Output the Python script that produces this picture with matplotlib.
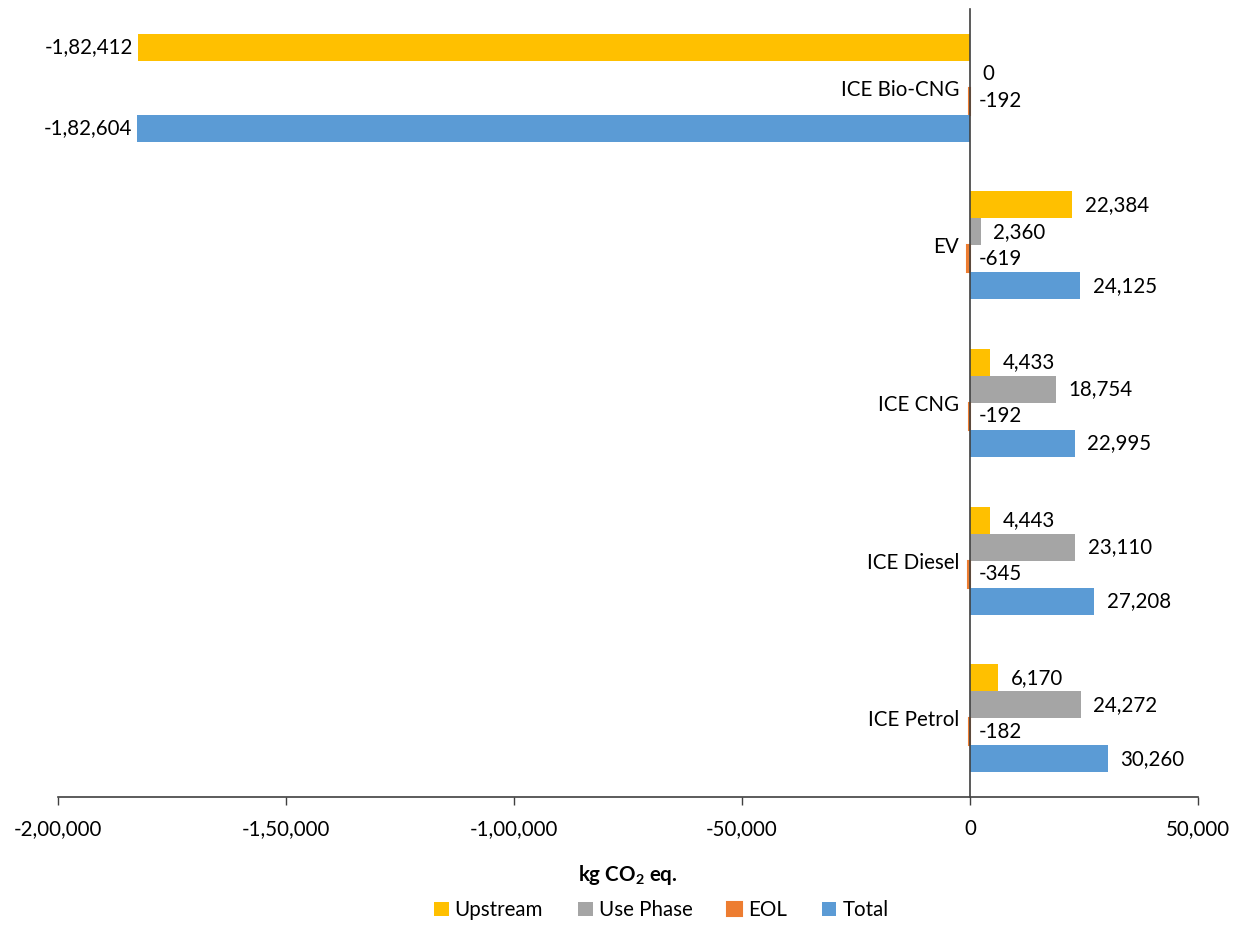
import matplotlib.pyplot as plt
import numpy as np

plt.rcParams["font.family"] = ["Lato", "DejaVu Sans"]
plt.rcParams["mathtext.fontset"] = "custom"
plt.rcParams["mathtext.rm"] = "Lato"
plt.rcParams["mathtext.bf"] = "Lato:bold"

vehicles = ["ICE Petrol", "ICE Diesel", "ICE CNG", "EV", "ICE Bio-CNG"]
upstream = [6170, 4443, 4433, 22384, -182412]
use_phase = [24272, 23110, 18754, 2360, 0]
eol = [-182, -345, -192, -619, -192]
total = [30260, 27208, 22995, 24125, -182604]

series = [
    ("Upstream", upstream, "#FFC000"),
    ("Use Phase", use_phase, "#A5A5A5"),
    ("EOL", eol, "#ED7D31"),
    ("Total", total, "#5B9BD5"),
]


def indian_format(v):
    """Format an integer with lakh-style digit grouping (1,82,412)."""
    sign = "-" if v < 0 else ""
    s = str(abs(int(round(v))))
    if len(s) > 3:
        head, tail = s[:-3], s[-3:]
        groups = []
        while len(head) > 2:
            groups.insert(0, head[-2:])
            head = head[:-2]
        if head:
            groups.insert(0, head)
        s = ",".join(groups + [tail])
    return sign + s


fig = plt.figure(figsize=(12.43, 9.26), dpi=100)
ax = fig.add_axes([0.0467, 0.1393, 0.9171, 0.851])

y = np.arange(len(vehicles))
h = 0.171
offsets = [1.5 * h, 0.5 * h, -0.5 * h, -1.5 * h]
fs = 14.8

for (name, vals, color), off in zip(series, offsets):
    # thin EOL bars get an edge so they stay visible next to the axis
    lw = 1.5 if name == "EOL" else 0
    ax.barh(y + off, vals, height=h, color=color, edgecolor=color, linewidth=lw,
            label=name, zorder=2)
    for yi, v in zip(y, vals):
        text = indian_format(v)
        if v < -10000:
            ax.annotate(text, (v, yi + off), xytext=(-4, 0), textcoords="offset points",
                        ha="right", va="center", fontsize=fs)
        elif v < 0:
            ax.annotate(text, (0, yi + off), xytext=(6, 0), textcoords="offset points",
                        ha="left", va="center", fontsize=fs)
        else:
            ax.annotate(text, (v, yi + off), xytext=(9, 0), textcoords="offset points",
                        ha="left", va="center", fontsize=fs)

ax.spines["left"].set_position(("data", 0))
ax.spines["left"].set_zorder(3)
ax.spines["top"].set_visible(False)
ax.spines["right"].set_visible(False)
for sp in ("left", "bottom"):
    ax.spines[sp].set_color("#404040")
    ax.spines[sp].set_linewidth(1.2)

ax.set_xlim(-200000, 50000)
ax.set_ylim(-0.5, 4.5)
xticks = np.arange(-200000, 50001, 50000)
ax.set_xticks(xticks)
ax.set_xticklabels([indian_format(t) for t in xticks])
ax.set_yticks(y)
ax.set_yticklabels(vehicles)
ax.tick_params(axis="y", length=0, pad=8, labelsize=fs)
ax.tick_params(axis="x", direction="out", length=6, width=1, color="#404040", pad=10,
               labelsize=fs)

ax.set_xlabel(r"kg CO$_\mathbf{2}$ eq.", fontsize=fs, fontweight="bold", labelpad=17)

fig.legend(loc="center", bbox_to_anchor=(0.532, 0.017), ncol=4, frameon=False,
           fontsize=fs, handlelength=0.7, handleheight=0.7, handletextpad=0.3,
           columnspacing=1.7)

fig.savefig("out.png", dpi=100)
